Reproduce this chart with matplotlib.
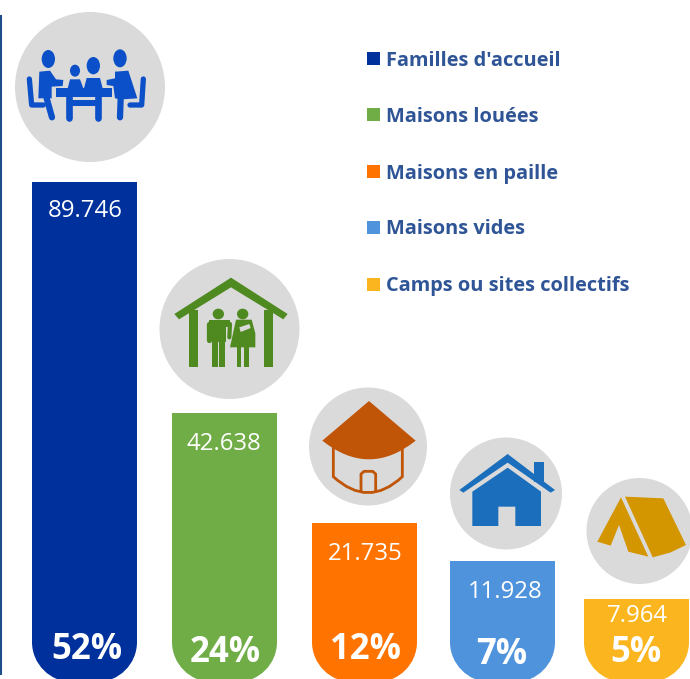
import matplotlib.pyplot as plt
from matplotlib.patches import Circle, Ellipse, PathPatch, Polygon, Rectangle
from matplotlib.path import Path

plt.rcParams['font.family'] = ['Open Sans', 'DejaVu Sans']

# data
categories = ['Familles d\'accueil', 'Maisons louées', 'Maisons en paille', 'Maisons vides', 'Camps ou sites collectifs']
value_labels = ['89.746', '42.638', '21.735', '11.928', '7.964']
percents = ['52%', '24%', '12%', '7%', '5%']
bar_heights = [500, 269, 159, 121, 83]  # not to scale with the values in the original
colors = ['#00309c', '#70ad47', '#ff7300', '#4f93dc', '#fbb61f']

# layout, all in pixels of the picture
W, H, BASE = 690, 679, 682
bar_lefts = [32, 172, 312, 450, 584]
bar_width = 105
value_xy = [(85, 211), (224, 444), (365, 554), (505, 592), (637, 616)]
pct_xy = [(87, 650), (225, 653), (365, 650), (502, 655), (636, 653)]
circles = [(90, 87, 75), (229.5, 329, 70), (368, 446.5, 59), (506, 493.5, 56), (639.5, 531, 53)]
legend_y = [58, 114, 171, 227, 284]
GREY = '#dadada'

fig = plt.figure(figsize=(W / 100, H / 100), dpi=100)
ax = fig.add_axes([0, 0, 1, 1])
ax.set_xlim(0, W)
ax.set_ylim(BASE - H, BASE)  # y is height above the bar baseline
ax.axis('off')


def py(y):
    return BASE - y


def rounded_bottom(x0, x1, top, r=40):
    # bar outline with big rounded lower corners, k gives a circular arc
    k = 0.55 * r
    verts = [(x0, py(top)), (x0, r), (x0, r - k), (x0 + r - k, 0), (x0 + r, 0), (x1 - r, 0),
             (x1 - r + k, 0), (x1, r - k), (x1, r), (x1, py(top)), (x0, py(top))]
    codes = [Path.MOVETO, Path.LINETO, Path.CURVE4, Path.CURVE4, Path.CURVE4, Path.LINETO,
             Path.CURVE4, Path.CURVE4, Path.CURVE4, Path.LINETO, Path.CLOSEPOLY]
    return Path(verts, codes)


def zp(points, off):
    return [(x / 3 + off[0], py(y / 3 + off[1])) for x, y in points]


def poly(points, off, color, z=4):
    ax.add_patch(Polygon(zp(points, off), closed=True, fc=color, ec='none', zorder=z))


def rect(x0, y0, x1, y1, off, color, z=4):
    poly([(x0, y0), (x1, y0), (x1, y1), (x0, y1)], off, color, z)


def line(points, off, color, lw):
    xy = zp(points, off)
    ax.plot([p[0] for p in xy], [p[1] for p in xy], color=color, lw=lw, solid_capstyle='round', solid_joinstyle='round', zorder=4)


def head(x, y, rx, ry, off, color):
    cx, cy = zp([(x, y)], off)[0]
    ax.add_patch(Ellipse((cx, cy), 2 * rx / 3, 2 * ry / 3, fc=color, ec='none', zorder=4))


def icon_meeting():
    c, o = '#0b50c8', (0, 0)
    head(145, 177, 20, 27, o, c)
    poly([(118, 215), (150, 212), (168, 238), (190, 240), (188, 258), (155, 260), (155, 295), (115, 295)], o, c)
    line([(140, 295), (156, 352)], o, c, 4.5)
    line([(88, 237), (95, 315), (130, 315)], o, c, 3.8)
    head(360, 175, 20, 27, o, c)
    poly([(345, 215), (385, 212), (412, 295), (368, 298), (345, 295), (340, 258), (320, 255), (320, 240), (345, 235)], o, c)
    line([(362, 295), (360, 352)], o, c, 4.5)
    line([(430, 237), (425, 315), (390, 315)], o, c, 3.8)
    rect(168, 265, 335, 290, o, c)
    line([(208, 290), (208, 355)], o, c, 4.8)
    line([(293, 290), (293, 355)], o, c, 4.8)
    rect(208, 300, 293, 317, o, c)
    head(225, 212, 15, 18, o, c)
    poly([(203, 265), (210, 238), (240, 238), (250, 265)], o, c)
    head(280, 197, 20, 26, o, c)
    poly([(252, 265), (260, 234), (300, 234), (308, 265)], o, c)


def icon_rented():
    c, o = '#4e8a20', (150, 250)
    poly([(73, 192), (243, 83), (413, 192), (400, 208), (243, 112), (87, 208)], o, c)
    rect(117, 180, 143, 350, o, c)
    rect(343, 180, 370, 350, o, c)
    head(205, 192, 17, 16, o, c)
    rect(178, 209, 240, 232, o, c)
    rect(186, 209, 228, 275, o, c)
    rect(187, 275, 203, 350, o, c)
    rect(208, 275, 226, 350, o, c)
    line([(176, 222), (176, 270)], o, c, 3.8)
    line([(240, 222), (238, 262)], o, c, 3)
    head(278, 192, 17, 16, o, c)
    poly([(258, 209), (305, 209), (316, 250), (316, 292), (240, 292)], o, c)
    rect(260, 292, 274, 350, o, c)
    rect(282, 292, 296, 350, o, c)
    poly([(268, 232), (298, 222), (302, 234), (272, 246)], o, GREY, 5)


def icon_straw():
    c, o = '#c05508', (150, 250)
    pts = zp([(657, 453), (797, 572), (657, 684), (517, 572), (657, 453)], o)
    codes = [Path.MOVETO, Path.LINETO, Path.CURVE3, Path.CURVE3, Path.CLOSEPOLY]
    ax.add_patch(PathPatch(Path(pts, codes), fc=c, ec='none', zorder=4))
    pts = zp([(550, 590), (550, 680), (655, 776), (757, 680), (757, 590)], o)
    codes = [Path.MOVETO, Path.LINETO, Path.CURVE3, Path.CURVE3, Path.LINETO]
    ax.add_patch(PathPatch(Path(pts, codes), fc='none', ec=c, lw=2, zorder=4))
    line([(633, 725), (633, 672), (642, 664), (668, 664), (677, 672), (677, 725)], o, c, 2)


def icon_empty():
    c, o = '#1b6ebb', (430, 420)
    rect(313, 125, 342, 185, o, c)
    poly([(88, 210), (233, 102), (375, 210), (362, 218), (233, 128), (100, 218)], o, c)
    poly([(127, 215), (233, 143), (333, 215), (333, 318), (256, 318), (256, 260), (205, 260), (205, 318), (127, 318)], o, c)


def icon_tent():
    c, o = '#d49600', (430, 420)
    poly([(585, 230), (700, 235), (768, 375), (720, 398), (668, 412)], o, c)
    poly([(573, 232), (655, 410), (595, 395), (567, 315), (542, 377), (502, 365)], o, c)


# left rule
ax.plot([1, 1], [py(15), py(675)], color='#1f4e8c', lw=1.5, zorder=1, solid_capstyle='butt')

# bars
bars = ax.bar(bar_lefts, bar_heights, width=bar_width, align='edge', color=colors, zorder=2)
for b in bars:
    x0 = b.get_x()
    clip = PathPatch(rounded_bottom(x0, x0 + b.get_width(), py(b.get_height())), transform=ax.transData)
    b.set_clip_path(clip)

for (vx, vy), (px, ppy), v, p in zip(value_xy, pct_xy, value_labels, percents):
    ax.text(vx, py(vy), v, color='white', fontsize=17.3, ha='center', va='center', zorder=3)
    ax.text(px, py(ppy), p, color='white', fontsize=25, fontweight='bold', ha='center', va='center', zorder=3)

for cx, cy, r in circles:
    ax.add_patch(Circle((cx, py(cy)), r, fc=GREY, ec='none', zorder=3))

icon_meeting()
icon_rented()
icon_straw()
icon_empty()
icon_tent()

# legend
for name, c, y in zip(categories, colors, legend_y):
    ax.add_patch(Rectangle((367, py(y + 6.5)), 13, 13, fc=c, ec='none', zorder=3))
    ax.text(386, py(y + 2.5), name, color='#2f5597', fontsize=14.4, fontweight='bold', ha='left', va='center', zorder=3)

fig.savefig('out.png', dpi=100)
